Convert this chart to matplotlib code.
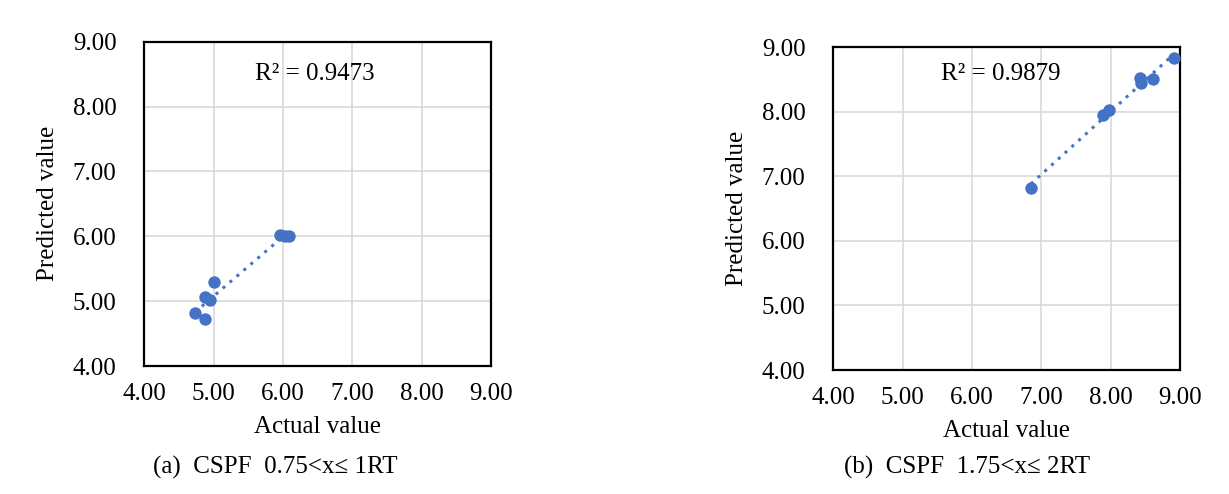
import numpy as np
import matplotlib
matplotlib.use("Agg")
import matplotlib.pyplot as plt

# Data
a_actual = [4.73, 4.87, 4.88, 4.95, 5.01, 5.96, 6.03, 6.09]
a_pred = [4.81, 4.72, 5.06, 5.01, 5.29, 6.02, 6.01, 6.01]
b_actual = [6.85, 7.89, 7.98, 8.42, 8.44, 8.61, 8.92]
b_pred = [6.82, 7.95, 8.02, 8.52, 8.44, 8.51, 8.83]
ticks = [4, 5, 6, 7, 8, 9]
tick_labels = ["4.00", "5.00", "6.00", "7.00", "8.00", "9.00"]
r2_a = "R² = 0.9473"
r2_b = "R² = 0.9879"
cap_a = "(a)  CSPF  0.75<x\u2264 1RT"
cap_b = "(b)  CSPF  1.75<x\u2264 2RT"

FONT = ["Liberation Serif", "DejaVu Serif"]
plt.rcParams["font.family"] = FONT
BLUE = "#4472C4"
FS = 18

fig = plt.figure(figsize=(12.29, 4.94), dpi=100)
ax1 = fig.add_axes([0.1174, 0.2591, 0.2821, 0.6565])
ax2 = fig.add_axes([0.6780, 0.2510, 0.2821, 0.6538])

def draw(ax, xs, ys, r2, r2pos):
    xs = np.array(xs); ys = np.array(ys)
    m, c = np.polyfit(xs, ys, 1)
    xl = np.array([xs.min(), xs.max()])
    ax.plot(xl, m * xl + c, color=BLUE, linestyle=(0, (1, 2.0)), linewidth=2.2, zorder=2)
    ax.scatter(xs, ys, s=80, color=BLUE, zorder=3, linewidths=0)
    ax.set_xlim(4, 9)
    ax.set_ylim(4, 9)
    ax.set_xticks(ticks)
    ax.set_xticklabels(tick_labels)
    ax.set_yticks(ticks)
    ax.set_yticklabels(tick_labels)
    ax.tick_params(axis="both", length=0, labelsize=FS)
    ax.tick_params(axis="y", pad=20)
    ax.tick_params(axis="x", pad=12)
    ax.grid(True, color="#D9D9D9", linewidth=1.2)
    ax.set_axisbelow(True)
    for s in ax.spines.values():
        s.set_color("black")
        s.set_linewidth(1.6)
    ax.set_xlabel("Actual value", fontsize=FS, labelpad=8)
    ax.set_ylabel("Predicted value", fontsize=FS, labelpad=10)
    ax.text(r2pos[0], r2pos[1], r2, fontsize=FS, ha="left", va="center")

draw(ax1, a_actual, a_pred, r2_a, (5.6, 8.5))
draw(ax2, b_actual, b_pred, r2_b, (5.55, 8.58))

fig.text(275 / 1229, 1 - 467 / 494, cap_a, fontsize=FS, ha="center", va="center")
fig.text(967 / 1229, 1 - 467 / 494, cap_b, fontsize=FS, ha="center", va="center")

fig.savefig("out.png", dpi=100)
